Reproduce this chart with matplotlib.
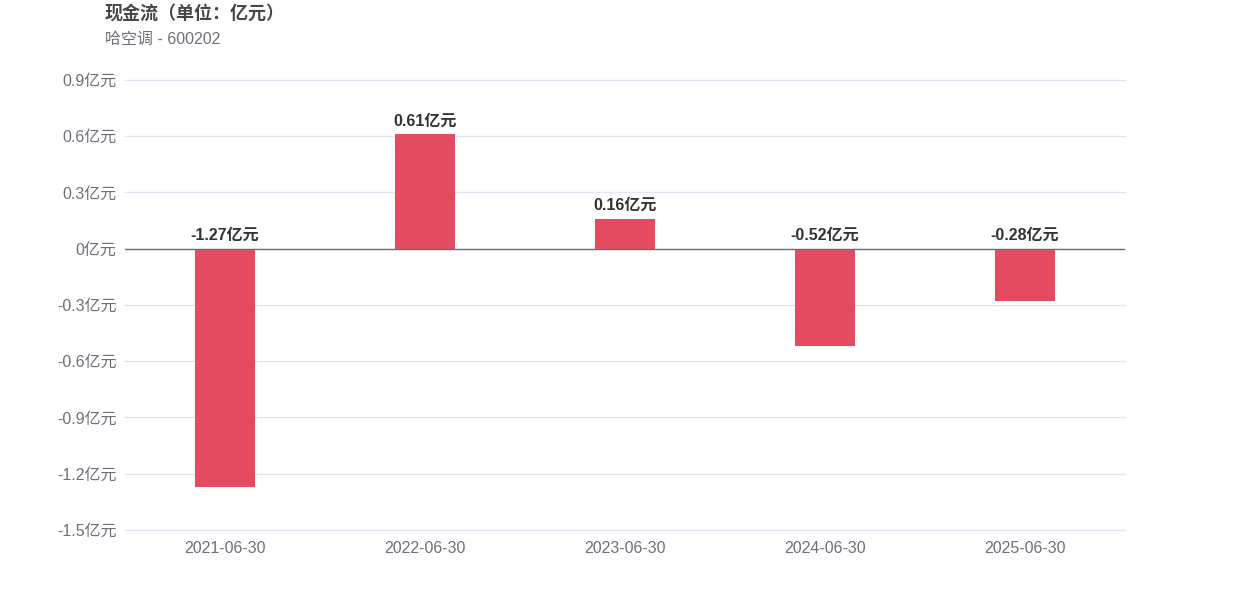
import matplotlib.pyplot as plt

plt.rcParams['font.family'] = ['Liberation Sans', 'Noto Sans CJK SC']

# ----- data -----------------------------------------------------------------
dates = ["2021-06-30", "2022-06-30", "2023-06-30", "2024-06-30", "2025-06-30"]
values = [-1.27, 0.61, 0.16, -0.52, -0.28]
yticks = [-1.5, -1.2, -0.9, -0.6, -0.3, 0, 0.3, 0.6, 0.9]
ytick_labels = ["-1.5亿元", "-1.2亿元", "-0.9亿元", "-0.6亿元", "-0.3亿元",
                "0亿元", "0.3亿元", "0.6亿元", "0.9亿元"]

BAR_COLOR = "#E54B60"
GRID_COLOR = "#E0E6F1"
TEXT_GRAY = "#6E7079"

fig = plt.figure(figsize=(12.5, 6), dpi=100)
ax = fig.add_axes([0.1, 0.1167, 0.8, 0.75])

x = range(len(dates))
ax.bar(x, values, width=0.3, color=BAR_COLOR, zorder=3)

ax.set_xlim(-0.5, len(dates) - 0.5)
ax.set_ylim(-1.5, 0.9)
ax.set_yticks(yticks)
ax.set_yticklabels(ytick_labels)
ax.set_xticks(list(x))
ax.set_xticklabels(dates)
ax.tick_params(axis="both", length=0, labelsize=11.5, colors=TEXT_GRAY)
ax.tick_params(axis="y", pad=6)
ax.tick_params(axis="x", pad=8)
ax.grid(axis="y", color=GRID_COLOR, linewidth=1, zorder=0)
for line in ax.get_ygridlines():
    line.set_clip_on(False)
for s in ax.spines.values():
    s.set_visible(False)
ax.axhline(0, color=TEXT_GRAY, linewidth=1, zorder=4)

# value labels
for i, v in enumerate(values):
    ax.annotate(f"{v:.2f}亿元", (i, max(v, 0)), xytext=(0, 4),
                textcoords="offset points", ha="center", va="bottom",
                fontsize=11.5, fontweight="bold", color="#333333")

fig.text(0.084, 0.978, "现金流（单位：亿元）", fontsize=13, fontweight="bold",
         color="#464646", va="center")
fig.text(0.084, 0.934, "哈空调 - 600202", fontsize=11.5, color=TEXT_GRAY,
         va="center")

fig.savefig("out.png", dpi=100)
